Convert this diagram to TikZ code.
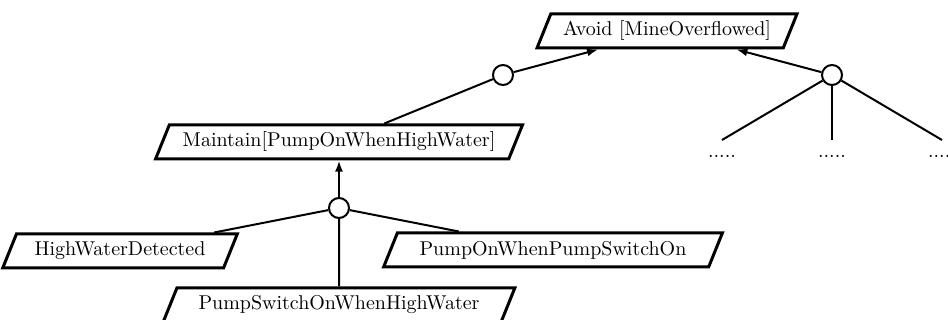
\documentclass[tikz,border=0pt]{standalone}
\usetikzlibrary{shapes.geometric,arrows.meta}

\begin{document}
\begin{tikzpicture}[x=0.5pt,y=-0.5pt,
	goal/.style={draw,trapezium,trapezium left angle=68,trapezium right angle=112,line width=1.5pt,minimum height=17pt,inner xsep=5pt},
	andnode/.style={draw,circle,fill=white,line width=1pt,minimum size=10pt,inner sep=0pt},
	link/.style={line width=1pt},
	goalarrow/.style={line width=1pt,-{Latex[length=5.5pt,width=4pt]}},
	dots/.style={anchor=north,text height=5pt,inner sep=3.5pt}]
\useasboundingbox (0,0) rectangle (948,320);
\node [goal] (avoid) at (667,31) {Avoid [MineOverflowed]};
\node [goal] (maintain) at (339,142) {Maintain[PumpOnWhenHighWater]};
\node [goal] (hwd) at (120,251) {HighWaterDetected};
\node [goal] (pon) at (553,250) {PumpOnWhenPumpSwitchOn};
\node [goal] (psw) at (339,305) {PumpSwitchOnWhenHighWater};
\node [andnode] (c1) at (503,75) {};
\node [andnode] (c2) at (832,75) {};
\node [andnode] (c3) at (339,208) {};
\node [dots] (d1) at (722,140) {.....};
\node [dots] (d2) at (832,140) {.....};
\node [dots] (d3) at (942,140) {.....};

\draw [goalarrow] (c1) -- (avoid);
\draw [link] (maintain) -- (c1);
\draw [goalarrow] (c2) -- (avoid);
\foreach \d in {d1,d2,d3}{
	\draw [link] (c2) -- (\d.north);
}
\draw [goalarrow] (c3) -- (maintain);
\draw [link] (c3) -- (hwd);
\draw [link] (c3) -- (pon);
\draw [link] (c3) -- (psw);
\end{tikzpicture}
\end{document}
